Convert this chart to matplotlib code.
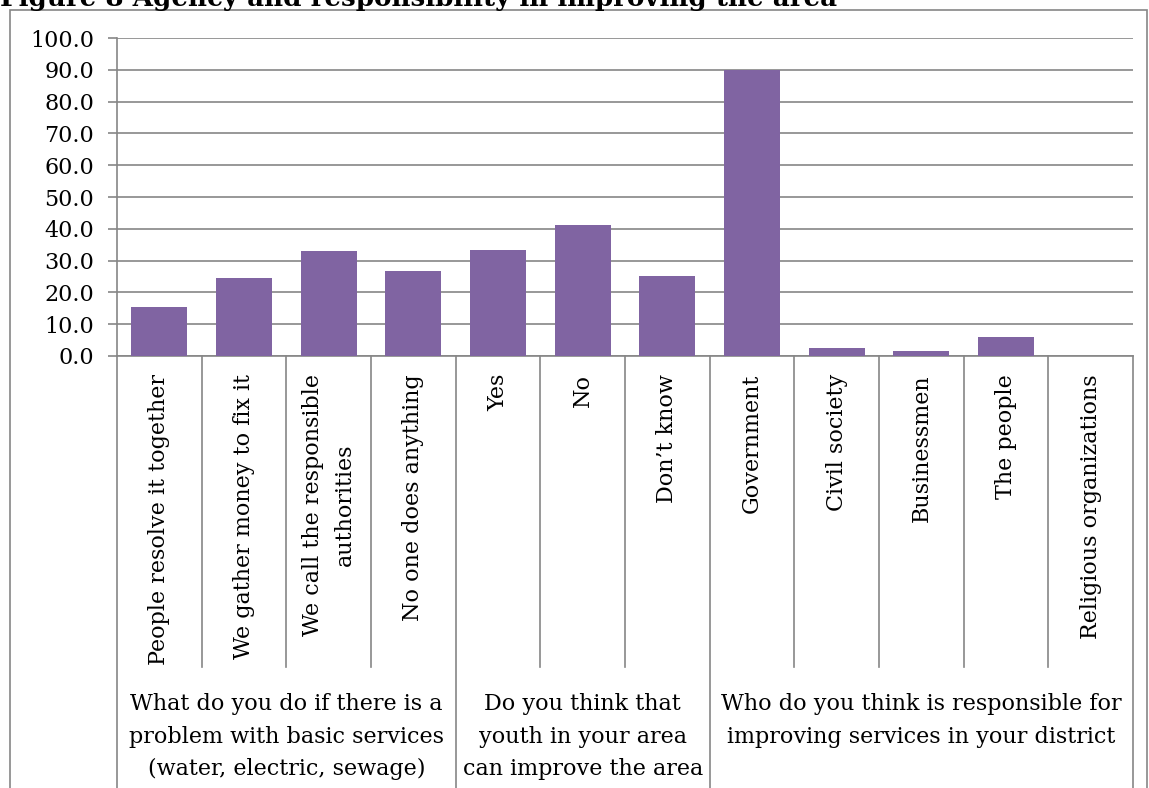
#!/usr/bin/env python3
"""Figure 8: agency and responsibility in improving the area."""
import matplotlib
matplotlib.use("Agg")
import matplotlib.pyplot as plt
import matplotlib.transforms as mtransforms
from matplotlib.patches import Rectangle

categories = [
    "People resolve it together",
    "We gather money to fix it",
    "We call the responsible\nauthorities",
    "No one does anything",
    "Yes",
    "No",
    "Don\u2019t know",
    "Government",
    "Civil society",
    "Businessmen",
    "The people",
    "Religious organizations",
]
values = [15.4, 24.6, 33.0, 26.7, 33.2, 41.3, 25.2, 89.8, 2.5, 1.5, 6.0, 0.0]
groups = [
    "What do you do if there is a\nproblem with basic services\n(water, electric, sewage)",
    "Do you think that\nyouth in your area\ncan improve the area",
    "Who do you think is responsible for\nimproving services in your district",
]
group_sizes = [4, 3, 5]
yticks = [0, 10, 20, 30, 40, 50, 60, 70, 80, 90, 100]

W, H = 1149, 788
FONT = "DejaVu Serif"
FS = 16.0
GRID = "#868686"
BAR = "#8064A2"

plt.rcParams["font.family"] = FONT

fig = plt.figure(figsize=(W / 100, H / 100), dpi=100)

# outer chart border (runs off the bottom of the picture)
fig.patches.append(Rectangle((10 / W, -0.05), (1147 - 10) / W, 1.05 - 10 / H,
                             transform=fig.transFigure, fill=False,
                             edgecolor=GRID, linewidth=1.2))

# title, cut off at the top of the picture as in the source
fig.text(0.0, 1 - 6 / H, "Figure 8 Agency and responsibility in improving the area",
         fontsize=18.8, fontweight="bold", va="baseline", ha="left")

left, right, top, base = 117, 1133, 38, 356
ax = fig.add_axes([left / W, (H - base) / H, (right - left) / W, (base - top) / H])

x = list(range(len(categories)))
ax.bar(x, values, width=0.66, color=BAR, zorder=3)
ax.set_xlim(-0.5, len(categories) - 0.5)
ax.set_ylim(0, 100)
ax.set_yticks(yticks)
ax.set_yticklabels([f"{v:.1f}" for v in yticks], fontsize=16)
ax.yaxis.grid(True, color=GRID, linewidth=1.2, zorder=0)
ax.tick_params(axis="y", length=6.5, width=1.2, color=GRID, pad=10)
ax.set_xticks([])
for s in ["top", "right"]:
    ax.spines[s].set_visible(False)
for s in ["left", "bottom"]:
    ax.spines[s].set_color(GRID)
    ax.spines[s].set_linewidth(1.2)

trans = mtransforms.blended_transform_factory(ax.transData, ax.transAxes)
ax_h = base - top
inner_end = -(667 - base) / ax_h
outer_end = -(800 - base) / ax_h

# category separators and group separators below the axis
bounds = [0]
for n in group_sizes:
    bounds.append(bounds[-1] + n)
for i in range(len(categories) + 1):
    y1 = outer_end if i in bounds else inner_end
    ax.plot([i - 0.5, i - 0.5], [0, y1], color=GRID, linewidth=1.2,
            transform=trans, clip_on=False)

# rotated category labels
label_top = -(374 - base) / ax_h
for i, lab in enumerate(categories):
    ax.text(i, label_top, lab, rotation=90, ha="center", va="top",
            fontsize=FS, transform=trans, linespacing=1.6)

# group labels
group_y = -(693 - base) / ax_h
for g, (a, b) in zip(groups, zip(bounds[:-1], bounds[1:])):
    ax.text((a + b - 1) / 2, group_y, g, ha="center", va="top",
            fontsize=16, transform=trans, linespacing=1.62)

fig.savefig("out.png", dpi=100)
